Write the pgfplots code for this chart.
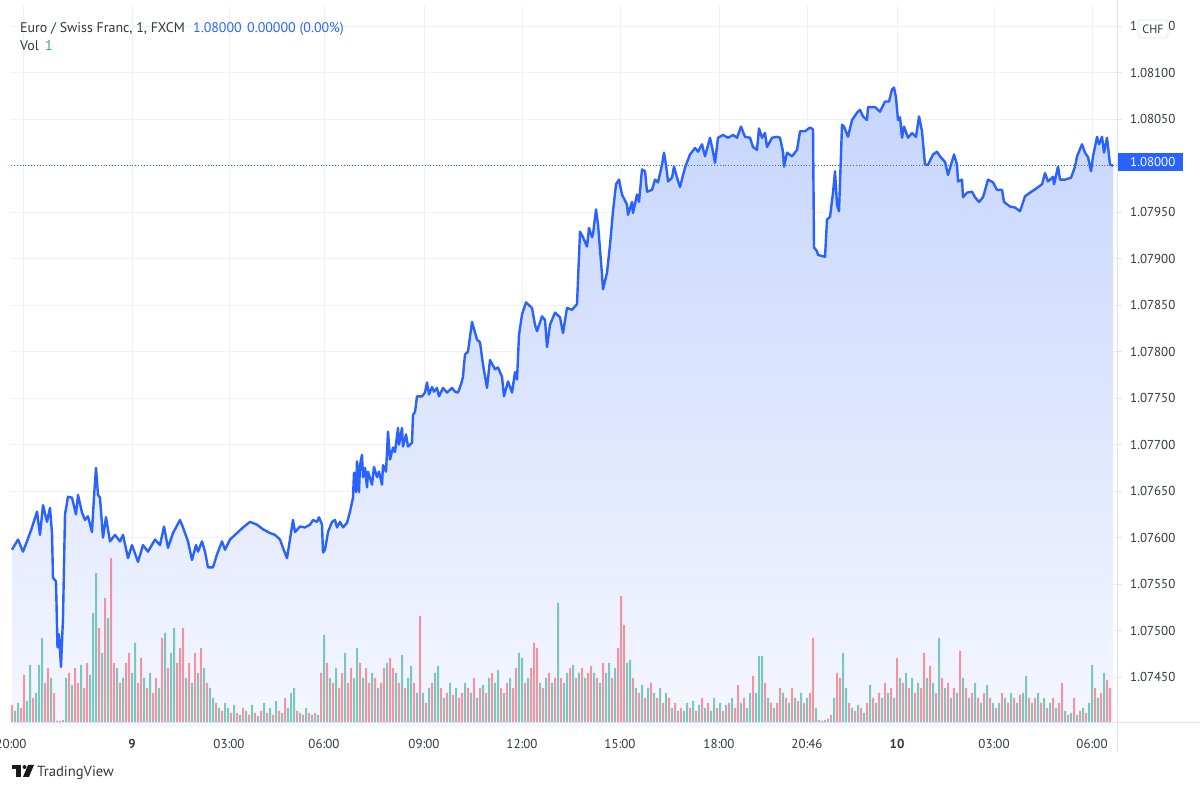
\documentclass[border=0pt]{standalone}
\usepackage{pgfplots}
\pgfplotsset{compat=1.18}
\usepackage{pgfplotstable}
\usepackage{fontspec}
\setmainfont{PT Sans}
\definecolor{tvblue}{HTML}{2962FF}
\definecolor{tvtext}{RGB}{50,54,64}
\definecolor{gridc}{RGB}{238,241,247}
\definecolor{sepc}{RGB}{224,227,235}
\definecolor{volred}{HTML}{F23645}
\definecolor{volgreen}{HTML}{089981}
\definecolor{filltop}{RGB}{198,213,253}
\definecolor{fillbot}{RGB}{245,247,255}
\definecolor{volone}{HTML}{26A69A}

\pgfplotstableread{
x p
12 1.07587
18 1.07598
23 1.07585
27 1.07596
32 1.07611
37 1.07628
40 1.07603
43 1.07635
47 1.07617
50 1.07632
52 1.07605
53 1.07557
56 1.07553
57.5 1.07482
59 1.07496
61 1.07461
63 1.07514
65 1.07625
68 1.07644
72 1.07643
76 1.07625
78 1.07646
82 1.07627
85 1.07619
88 1.07623
92 1.07606
94 1.07644
96 1.07675
98 1.07646
100 1.07643
103 1.07600
106 1.07622
110 1.07596
115 1.07603
120 1.07596
123 1.07603
128 1.07578
132 1.07592
138 1.07574
143 1.07592
148 1.07585
155 1.07598
160 1.07592
164 1.07612
168 1.07589
173 1.07605
180 1.07619
183 1.07611
188 1.07596
192 1.07576
196 1.07592
198 1.07585
202 1.07596
205 1.07585
208 1.07568
213 1.07568
217 1.07582
222 1.07596
225 1.07587
230 1.07598
237 1.07605
243 1.07611
250 1.07617
257 1.07614
263 1.07609
270 1.07605
275 1.07603
280 1.07598
283 1.07589
287 1.07578
293 1.07619
295 1.07606
300 1.07612
305 1.07611
310 1.07614
313 1.07619
317 1.07617
319 1.07622
322 1.07614
323 1.07584
325 1.07587
328 1.07606
332 1.07617
335 1.07619
337 1.07611
340 1.07617
343 1.07611
347 1.07616
350 1.07628
353 1.07643
354 1.07670
356 1.07649
357 1.07682
359 1.07649
360 1.07678
362 1.07689
363 1.07665
365 1.07675
367 1.07654
368 1.07671
372 1.07657
374 1.07676
377 1.07665
379 1.07671
382 1.07657
383 1.07678
386 1.07671
388 1.07714
390 1.07684
393 1.07697
395 1.07692
398 1.07718
399 1.07700
402 1.07718
403 1.07698
406 1.07711
408 1.07698
412 1.07702
413 1.07732
415 1.07735
417 1.07752
422 1.07752
425 1.07756
427 1.07767
429 1.07754
432 1.07762
434 1.07757
437 1.07761
439 1.07752
443 1.07761
447 1.07756
452 1.07761
455 1.07757
458 1.07756
461 1.07765
463 1.07773
464 1.07786
465 1.07797
468 1.07800
472 1.07832
477 1.07813
480 1.07810
483 1.07786
487 1.07761
490 1.07791
495 1.07781
498 1.07783
502 1.07773
504 1.07752
508 1.07768
512 1.07756
515 1.07778
517 1.07770
519 1.07818
522 1.07840
526 1.07853
532 1.07847
535 1.07829
537 1.07822
542 1.07838
545 1.07834
547 1.07805
550 1.07829
555 1.07842
560 1.07837
563 1.07820
567 1.07847
572 1.07845
577 1.07851
580 1.07929
583 1.07923
587 1.07913
589 1.07933
592 1.07923
593 1.07926
596 1.07953
598 1.07937
602 1.07883
603 1.07867
607 1.07885
610 1.07915
613 1.07951
616 1.07980
619 1.07985
622 1.07969
627 1.07958
628 1.07947
632 1.07961
633 1.07949
637 1.07969
639 1.07961
642 1.07996
645 1.07994
647 1.07972
652 1.07974
655 1.07985
658 1.07982
662 1.08001
664 1.08014
666 1.08001
668 1.07983
672 1.07987
674 1.07999
677 1.07987
680 1.07977
685 1.07998
690 1.08012
695 1.08019
698 1.08015
702 1.08023
705 1.08010
710 1.08030
713 1.08015
715 1.08003
718 1.08030
723 1.08033
728 1.08030
733 1.08033
737 1.08030
741 1.08042
745 1.08031
750 1.08030
753 1.08020
757 1.08017
759 1.08040
762 1.08030
765 1.08035
767 1.08020
772 1.08030
777 1.08031
780 1.08030
783 1.08015
784 1.07999
787 1.08014
792 1.08010
797 1.08017
800 1.08037
805 1.08037
810 1.08041
813 1.08039
814 1.07912
817 1.07908
818 1.07904
825 1.07902
827 1.07942
830 1.07945
833 1.07971
835 1.07994
837 1.07958
839 1.07951
842 1.08044
844 1.08042
848 1.08031
852 1.08049
857 1.08057
860 1.08060
863 1.08053
867 1.08049
868 1.08063
875 1.08063
880 1.08058
885 1.08069
889 1.08069
892 1.08082
894 1.08084
896 1.08073
898 1.08049
900 1.08052
902 1.08030
904 1.08042
908 1.08030
912 1.08035
916 1.08031
919 1.08053
922 1.08037
925 1.08001
928 1.08001
933 1.08012
937 1.08015
940 1.08010
945 1.08004
948 1.07990
951 1.08001
954 1.08012
957 1.08001
958 1.07983
962 1.07985
963 1.07966
967 1.07971
972 1.07972
975 1.07966
979 1.07961
983 1.07966
988 1.07985
993 1.07982
997 1.07974
1002 1.07974
1004 1.07961
1010 1.07956
1015 1.07955
1020 1.07951
1025 1.07967
1030 1.07971
1037 1.07976
1042 1.07980
1045 1.07992
1048 1.07983
1053 1.07988
1054 1.07980
1058 1.07999
1060 1.07985
1065 1.07985
1071 1.07987
1075 1.07999
1077 1.08010
1082 1.08023
1085 1.08014
1088 1.08009
1091 1.07994
1093 1.08010
1097 1.08031
1099 1.08023
1102 1.08031
1104 1.08014
1107 1.08030
1110 1.08001
1113 1.08000
}\pricedata

\pgfplotstableread{
x r g
12 18 0
15 0 12
18 0 20
21 15 0
24 48 0
27 0 22
30 0 58
33 25 0
36 0 30
39 0 58
42 0 85
45 40 0
48 55 0
51 0 45
54 30 0
57 2 0
60 0 2
63 3 0
66 0 45
69 50 0
72 0 38
75 55 0
78 40 0
81 0 58
84 35 0
87 60 0
90 0 48
93 0 110
96 0 150
99 95 0
102 0 70
105 125 0
108 0 105
111 165 0
114 60 0
117 0 55
120 40 0
123 0 45
126 60 0
129 70 0
132 0 50
135 0 80
138 40 0
141 65 0
144 0 45
147 35 0
150 0 50
153 30 0
156 45 0
159 0 35
162 85 0
165 0 90
168 55 0
171 0 70
174 0 95
177 60 0
180 75 0
183 95 0
186 0 45
189 60 0
192 0 40
195 70 0
198 0 50
201 75 0
204 0 55
207 40 0
210 0 35
213 0 25
216 20 0
219 0 15
222 12 0
225 0 20
228 0 15
231 10 0
234 0 18
237 10 0
240 0 8
243 15 0
246 0 12
249 8 0
252 0 18
255 10 0
258 0 7
261 12 0
264 0 20
267 10 0
270 0 15
273 8 0
276 0 22
279 12 0
282 0 10
285 25 0
288 0 15
291 0 30
294 0 35
297 12 0
300 0 10
303 8 0
306 0 15
309 10 0
312 0 8
315 10 0
318 0 8
321 50 0
324 0 88
327 60 0
330 0 45
333 40 0
336 0 55
339 35 0
342 50 0
345 0 70
348 40 0
351 55 0
354 0 45
357 0 75
360 60 0
363 0 45
366 55 0
369 40 0
372 0 50
375 45 0
378 0 35
381 40 0
384 55 0
387 0 60
390 65 0
393 55 0
396 0 50
399 40 0
402 0 68
405 35 0
408 0 45
411 0 57
414 40 0
417 0 30
420 107 0
423 0 30
426 20 0
429 0 35
432 40 0
435 0 50
438 0 57
441 35 0
444 0 25
447 30 0
450 0 40
453 28 0
456 0 35
459 25 0
462 30 0
465 0 40
468 35 0
471 0 30
474 45 0
477 0 25
480 35 0
483 0 38
486 30 0
489 0 45
492 50 0
495 0 40
498 0 53
501 35 0
504 0 30
507 40 0
510 0 45
513 35 0
516 55 0
519 0 70
522 0 65
525 40 0
528 0 45
531 55 0
534 80 0
537 75 0
540 0 40
543 35 0
546 0 45
549 50 0
552 0 40
555 45 0
558 0 120
561 45 0
564 0 40
567 0 50
570 55 0
573 0 58
576 45 0
579 0 50
582 55 0
585 0 45
588 50 0
591 57 0
594 0 50
597 45 0
600 0 40
603 60 0
606 0 50
609 0 60
612 45 0
615 0 55
618 75 0
621 127 0
624 98 0
627 0 60
630 0 63
633 45 0
636 0 35
639 30 0
642 0 38
645 25 0
648 0 35
651 40 0
654 0 30
657 25 0
660 0 35
663 20 0
666 0 30
669 25 0
672 0 15
675 20 0
678 0 12
681 15 0
684 0 12
687 0 20
690 15 0
693 0 22
696 12 0
699 0 18
702 25 0
705 0 15
708 20 0
711 0 12
714 0 25
717 15 0
720 0 20
723 12 0
726 0 18
729 20 0
732 0 25
735 15 0
738 38 0
741 0 20
744 25 0
747 0 15
750 0 30
753 47 0
756 0 30
759 0 67
762 0 67
765 40 0
768 0 25
771 20 0
774 0 15
777 20 0
780 35 0
783 0 30
786 25 0
789 0 20
792 35 0
795 0 25
798 22 0
801 0 30
804 20 0
807 0 25
810 30 0
813 85 0
816 0 15
819 3 0
822 0 2
825 3 0
828 0 4
831 8 0
834 0 25
837 50 0
840 45 0
843 0 70
846 0 35
849 20 0
852 0 15
855 12 0
858 0 18
861 15 0
864 0 10
867 20 0
870 0 38
873 25 0
876 0 20
879 30 0
882 0 25
885 40 0
888 0 30
891 35 0
894 0 25
897 65 0
900 0 45
903 40 0
906 0 50
909 35 0
912 0 45
915 30 0
918 0 40
921 35 0
924 70 0
927 0 45
930 57 0
933 0 40
936 30 0
939 0 85
942 45 0
945 0 35
948 40 0
951 0 25
954 35 0
957 0 30
960 72 0
963 0 45
966 35 0
969 0 25
972 30 0
975 0 40
978 25 0
981 0 20
984 30 0
987 0 38
990 25 0
993 0 20
996 15 0
999 0 20
1002 30 0
1005 0 25
1008 20 0
1011 0 30
1014 25 0
1017 0 20
1020 28 0
1023 0 30
1026 0 47
1029 25 0
1032 0 20
1035 25 0
1038 0 30
1041 20 0
1044 0 25
1047 15 0
1050 0 20
1053 25 0
1056 0 15
1059 20 0
1062 40 0
1065 0 12
1068 8 0
1071 0 10
1074 25 0
1077 0 8
1080 12 0
1083 0 15
1086 10 0
1089 0 20
1092 0 58
1095 35 0
1098 0 25
1101 30 0
1104 0 50
1107 43 0
1110 35 0
}\voldata

\begin{document}
\begin{tikzpicture}[x=1bp,y=1bp]
\useasboundingbox (0,0) rectangle (1200,790);
\pgfplotsset{tvaxis/.style={
  at={(11,67)}, anchor=south west, scale only axis,
  width=1106bp, height=723bp, xmin=11, xmax=1117},
  % prices are shown in units of 0.0001 above 1.07 (pips)
  pipaxis/.style={ymin=39.57, ymax=117.31, y filter/.expression={(y-1.07)*10000}}}
% main axis: grid, ticks, area fill
\begin{axis}[tvaxis, pipaxis,
  axis line style={draw=none},
  xtick={23,132,229,324,424,522,620,719,807,897,994,1092},
  xticklabels={\hspace*{-24bp}20:00,\textbf{9},03:00,06:00,09:00,12:00,15:00,18:00,20:46,\textbf{10},03:00,06:00},
  ytick={45,50,55,60,65,70,75,80,85,90,95,100,105,110,115},
  yticklabels={1.07450,1.07500,1.07550,1.07600,1.07650,1.07700,1.07750,1.07800,1.07850,1.07900,1.07950,1.08000,1.08050,1.08100,1.08150},
  yticklabel pos=right, ytick pos=right, xtick pos=bottom,
  tick align=outside, major tick length=5bp,
  x tick style={draw=none}, y tick style={draw=sepc, line width=0.8bp},
  grid=major, major grid style={draw=gridc, line width=1bp},
  ticklabel style={font=\fontsize{13}{15}\selectfont, text=tvtext},
  yticklabel style={anchor=west, inner sep=0pt, xshift=8bp},
  xticklabel style={yshift=-3bp}]
\addplot[draw=none, top color=filltop, bottom color=fillbot] table[x=x,y=p]{\pricedata} |- (12,39.57) -- cycle;
\end{axis}
% volume axis
\begin{axis}[tvaxis, ymin=0, ymax=723, hide axis]
\addplot[ybar, bar width=2bp, bar shift=0pt, draw=none, fill=volred, fill opacity=0.5] table[x=x,y=r]{\voldata};
\addplot[ybar, bar width=2bp, bar shift=0pt, draw=none, fill=volgreen, fill opacity=0.5] table[x=x,y=g]{\voldata};
\end{axis}
% price line axis
\begin{axis}[tvaxis, pipaxis, hide axis]
\addplot[tvblue, dotted, line width=0.9bp] coordinates {(11,1.08) (1117,1.08)};
\addplot[tvblue, line width=2.4bp, line join=round] table[x=x,y=p]{\pricedata};
\end{axis}
% decorations in image coordinates (y down)
\begin{scope}[yshift=790bp, y=-1bp]
\draw[sepc, line width=1bp] (1117,0) -- (1117,752);
\draw[sepc, line width=1bp] (11,723) -- (1200,723);
\fill[tvblue] (1118,153) rectangle (1183,171);
\node[anchor=base west, inner sep=0pt, text=white, font=\fontsize{13}{15}\selectfont] at (1130,166.5) {1.08000};
\draw[sepc, fill=white, rounded corners=3bp, line width=0.8bp] (1138,20) rectangle (1168,38);
\node[text=tvtext, font=\fontsize{12}{14}\selectfont, inner sep=0pt] at (1153,29) {CHF};
\node[anchor=base west, inner sep=0pt, text=tvtext, font=\fontsize{14}{16}\selectfont] at (20,33) {Euro / Swiss Franc, 1, FXCM};
\node[anchor=base west, inner sep=0pt, text=tvblue, font=\fontsize{14}{16}\selectfont] at (193,33) {1.08000};
\node[anchor=base west, inner sep=0pt, text=tvblue, font=\fontsize{14}{16}\selectfont] at (247,33) {0.00000 (0.00\%)};
\node[anchor=base west, inner sep=0pt, text=tvtext, font=\fontsize{14}{16}\selectfont] at (20,50.5) {Vol};
\node[anchor=base west, inner sep=0pt, text=volone, font=\fontsize{14}{16}\selectfont] at (45,50.5) {1};
% TradingView logo
\fill[black!90] (12,765) rectangle (21,769);
\fill[black!90] (16,765) rectangle (21,777);
\fill[black!90] (24.5,767) circle (2);
\fill[black!90] (28,765) -- (34,765) -- (29,777) -- (23,777) -- cycle;
\node[anchor=base west, inner sep=0pt, text=tvtext, font=\fontsize{14.7}{16}\selectfont] at (37,777) {TradingView};
\end{scope}
\end{tikzpicture}
\end{document}
